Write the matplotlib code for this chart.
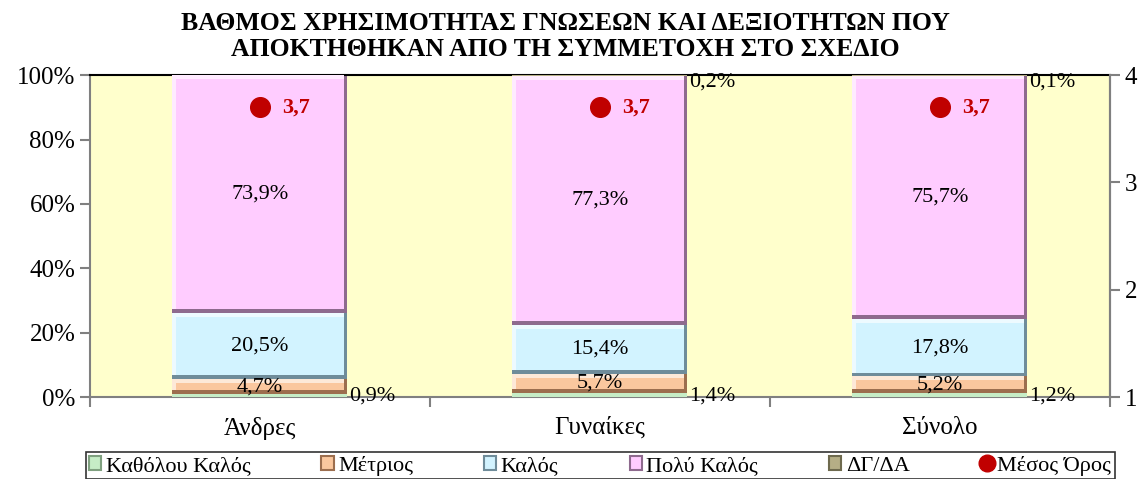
import numpy as np
import matplotlib.pyplot as plt
from matplotlib.patches import Patch
from matplotlib.lines import Line2D
from matplotlib.colors import to_rgb

plt.rcParams['font.family'] = ['Liberation Serif', 'DejaVu Serif']

categories = ["Άνδρες", "Γυναίκες", "Σύνολο"]
series = ["Καθόλου Καλός", "Μέτριος", "Καλός", "Πολύ Καλός", "ΔΓ/ΔΑ"]
katholou = [0.9, 1.4, 1.2]
metrios = [4.7, 5.7, 5.2]
kalos = [20.5, 15.4, 17.8]
poly_kalos = [73.9, 77.3, 75.7]
dg_da = [0.0, 0.2, 0.1]
mean_score = [3.7, 3.7, 3.7]

values = [katholou, metrios, kalos, poly_kalos, dg_da]
faces = ["#C6EDC6", "#FAC79E", "#D2F3FF", "#FFCCFF", "#B5AE86"]
shades = ["#7FA07F", "#9C6E4E", "#6F8C9A", "#8E6A8E", "#6E6A4E"]


def lighten(c, f=0.6):
    r = np.array(to_rgb(c))
    return tuple(r + (1 - r) * f)


fig = plt.figure(figsize=(11.43, 4.79), dpi=100)
ax = fig.add_axes([0.0787, 0.171, 0.8923, 0.672])
ax.set_facecolor("#FFFFCC")

x = np.arange(len(categories))
width = 0.515
dx = 0.011   # ~4 px
dy = 1.2     # ~4 px

bottom = np.zeros(len(categories))
for k, vals in enumerate(values):
    vals = np.array(vals)
    for i in range(len(x)):
        if vals[i] <= 0:
            continue
        left = x[i] - width / 2
        b = bottom[i]
        h = vals[i]
        if h > 3 * dy:
            ax.bar(left, h, width, bottom=b, align="edge", color=shades[k],
                   linewidth=0, zorder=2)
            ax.bar(left, h - dy, width - dx, bottom=b + dy, align="edge",
                   color=lighten(faces[k]), linewidth=0, zorder=3)
            ax.bar(left + dx, h - 2 * dy, width - 2 * dx, bottom=b + dy,
                   align="edge", color=faces[k], linewidth=0, zorder=4)
        else:
            ax.bar(left, h, width, bottom=b, align="edge", color=faces[k],
                   linewidth=0, zorder=3)
        lab = f"{h:.1f}%".replace(".", ",")
        if k == 0:
            ax.text(x[i] + width / 2 + 0.005, b + 0.2, lab, ha="left",
                    va="center", fontsize=16, zorder=5)
        elif k == 4:
            ax.text(x[i] + width / 2 + 0.005, 100.8, lab, ha="left",
                    va="top", fontsize=16, zorder=5)
        else:
            ax.text(x[i], b + h / 2, lab, ha="center",
                    va="center", fontsize=16, zorder=5)
    bottom += vals

ax.set_xlim(-0.5, 2.5)
ax.set_ylim(0, 100)
ax.set_yticks(np.arange(0, 101, 20))
ax.set_yticklabels([f"{v}%" for v in range(0, 101, 20)], fontsize=18)
ax.set_xticks([-0.5, 0.5, 1.5, 2.5])
ax.set_xticklabels([])
ax.set_xticks(x, minor=True)
ax.set_xticklabels(categories, minor=True, fontsize=18)
ax.tick_params(axis="x", which="minor", length=0, pad=14)
ax.tick_params(axis="x", which="major", length=7, color="#808080", width=1.5)
ax.tick_params(axis="y", length=7, color="#808080", width=1.5)
for s in ["left", "bottom", "right"]:
    ax.spines[s].set_color("#808080")
    ax.spines[s].set_linewidth(1.5)
ax.spines["top"].set_color("black")
ax.spines["top"].set_linewidth(1.5)

ax2 = ax.twinx()
ax2.set_ylim(1, 4)
ax2.set_yticks([1, 2, 3, 4])
ax2.tick_params(axis="y", length=7, color="#808080", width=1.5, labelsize=18)
ax2.spines["right"].set_color("#808080")
ax2.spines["right"].set_linewidth(1.5)
ax2.spines["top"].set_visible(False)
ax2.spines["left"].set_visible(False)
ax2.spines["bottom"].set_visible(False)
ax2.scatter(x, mean_score, s=200, color="#C00000", zorder=6)
for i in range(len(x)):
    ax2.text(x[i] + 0.065, mean_score[i], f"{mean_score[i]:.1f}".replace(".", ","),
             color="#C00000", fontsize=16, fontweight="bold", ha="left",
             va="center", zorder=6)

fig.suptitle("ΒΑΘΜΟΣ ΧΡΗΣΙΜΟΤΗΤΑΣ ΓΝΩΣΕΩΝ ΚΑΙ ΔΕΞΙΟΤΗΤΩΝ ΠΟΥ\n"
             "ΑΠΟΚΤΗΘΗΚΑΝ ΑΠΟ ΤΗ ΣΥΜΜΕΤΟΧΗ ΣΤΟ ΣΧΕΔΙΟ",
             x=0.495, y=0.975, fontsize=18.5, fontweight="bold", linespacing=1.15)

handles = [Patch(facecolor=faces[k], edgecolor=shades[k], linewidth=1.5)
           for k in range(len(series))]
handles.append(Line2D([], [], marker="o", color="#C00000", linestyle="none",
                      markersize=12))
leg = fig.legend(handles, series + ["Μέσος Όρος"], loc="lower center",
                 bbox_to_anchor=(0.525, 0.0), ncol=6, fontsize=16,
                 frameon=True, fancybox=False, edgecolor="black",
                 handlelength=0.55, handleheight=0.55, handletextpad=0.2,
                 columnspacing=3.2, borderpad=0.15, borderaxespad=0)
leg.get_frame().set_linewidth(1.2)

fig.savefig("out.png", dpi=100)
